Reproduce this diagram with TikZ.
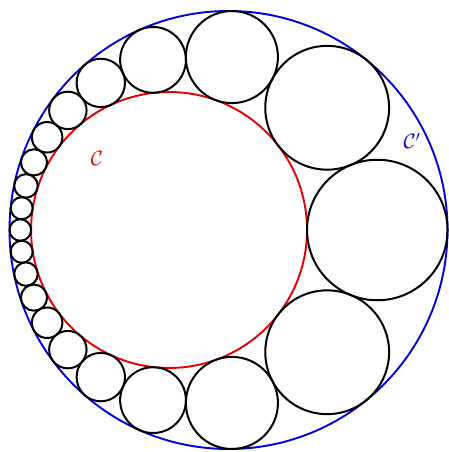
\documentclass[tikz,border=0pt]{standalone}
\tikzset{chaincirc/.style={draw=black,line width=2pt},
  outercirc/.style={draw=blue!85!black,line width=1.9pt},
  innercirc/.style={draw=red!90!black,line width=1.9pt}}
\begin{document}
\begin{tikzpicture}[x=1pt,y=-1pt]
\useasboundingbox (0,0) rectangle (448,452);
\pgfmathsetmacro\stR{0.630}
\pgfmathsetmacro\stT{tan(9)}
\pgfmathsetmacro\stD{sqrt((1-\stR)*(1-\stR)-4*\stR*\stT*\stT)}
\pgfmathsetmacro\stA{1+\stD*\stD-\stR*\stR}
\pgfmathsetmacro\stQ{(0-\stA-sqrt(\stA*\stA-4*\stD*\stD))/(2*\stD)}
\pgfmathsetmacro\stU{(0-(\stQ))/((\stQ)*(\stQ)-1)}
\pgfmathsetmacro\stB{1/((\stQ)*(\stQ)-1)}
\pgfmathsetmacro\stAi{\stR/(((\stQ)+\stD)*((\stQ)+\stD)-\stR*\stR)}
\pgfmathsetmacro\stM{(\stAi+\stB)/2}
\pgfmathsetmacro\stRho{(\stB-\stAi)/2}
\pgfmathsetmacro\stIx{228.5-219*\stD}
\pgfmathsetmacro\stIr{219*\stR}
\draw[outercirc] (228.5,230) circle (219pt);
\draw[innercirc] (\stIx,230) circle (\stIr pt);
\foreach \k in {0,...,19}{
  \pgfmathsetmacro\stX{\stU+\stM*cos(18*\k)}
  \pgfmathsetmacro\stY{\stM*sin(18*\k)}
  \pgfmathsetmacro\stDD{\stX*\stX+\stY*\stY-\stRho*\stRho}
  \pgfmathsetmacro\stCx{228.5+219*((\stQ)+\stX/\stDD)}
  \pgfmathsetmacro\stCy{230+219*\stY/\stDD}
  \pgfmathsetmacro\stCr{219*\stRho/abs(\stDD)}
  \draw[chaincirc] (\stCx,\stCy) circle (\stCr pt);
}
\node[text=red!90!black] (labC) at (97,158) {\fontsize{20}{24}\selectfont$\mathcal{C}$};
\node[text=blue!85!black] (labCp) at (412,141) {\fontsize{20}{24}\selectfont$\mathcal{C}'$};
\end{tikzpicture}
\end{document}
